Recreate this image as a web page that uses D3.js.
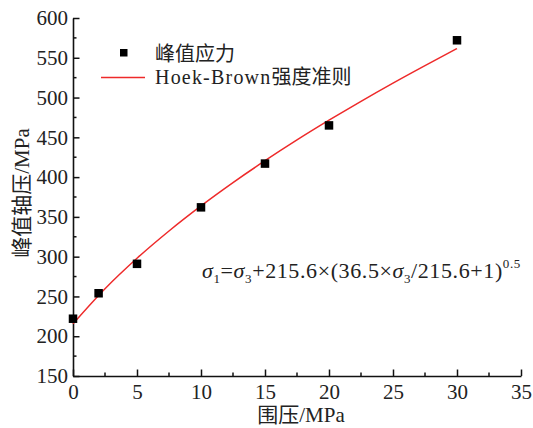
<!doctype html>
<html lang="zh">
<head>
<meta charset="utf-8"/>
<title>峰值应力 Hoek-Brown</title>
<script src="https://d3js.org/d3.v7.min.js"></script>
<style>
  body { margin: 0; background: #fff; }
  svg text { font-family: "Liberation Serif", "Noto Sans CJK SC", serif; fill: #222; }
</style>
</head>
<body>
<svg id="chart"></svg>
<script>
    // measured peak stress points
    const confining = [0, 2, 5, 10, 15, 20, 30];
    const peakStress = [222, 254, 291, 362, 417, 465, 572];

    // Hoek-Brown fit curve
    const fitSigma3 = [0, 2.5, 5, 7.5, 10, 12.5, 15, 17.5, 20, 22.5, 25, 27.5, 30];
    const fitSigma1 = [215.6, 259.7, 298.0, 332.3, 363.8, 393.1, 420.6, 446.7, 471.5, 495.3, 518.2, 540.2, 561.6];

    const xTicks = [0, 5, 10, 15, 20, 25, 30, 35];
    const yTicks = [150, 200, 250, 300, 350, 400, 450, 500, 550, 600];
    const xMinor = [2.5, 7.5, 12.5, 17.5, 22.5, 27.5, 32.5];
    const yMinor = [175, 225, 275, 325, 375, 425, 475, 525, 575];

    let width = 533,
        height = 428;
    const margin = {top: 18, right: 12, bottom: 52, left: 73};

    const svg = d3.select("#chart")
        .attr("width", width)
        .attr("height", height);

    const x = d3.scaleLinear().domain([0, 35]).range([margin.left, width - margin.right]);
    const y = d3.scaleLinear().domain([150, 600]).range([height - margin.bottom, margin.top]);

    // x axis, ticks pointing inward
    const gx = svg.append("g")
        .attr("transform", `translate(0,${height - margin.bottom})`)
        .call(d3.axisBottom(x).tickValues(xTicks).tickSize(-6.5).tickPadding(8).tickSizeOuter(0));
    gx.selectAll(".tick-minor")
        .data(xMinor)
        .enter()
        .append("line")
        .attr("x1", d => x(d)).attr("x2", d => x(d))
        .attr("y1", 0).attr("y2", -3.5)
        .attr("stroke", "#111").attr("stroke-width", 1.5);

    // y axis
    const gy = svg.append("g")
        .attr("transform", `translate(${margin.left},0)`)
        .call(d3.axisLeft(y).tickValues(yTicks).tickSize(-6.5).tickPadding(5).tickSizeOuter(0));
    gy.selectAll(".tick-minor")
        .data(yMinor)
        .enter()
        .append("line")
        .attr("y1", d => y(d)).attr("y2", d => y(d))
        .attr("x1", 0).attr("x2", 3.5)
        .attr("stroke", "#111").attr("stroke-width", 1.5);

    svg.selectAll(".domain").attr("stroke", "#111").attr("stroke-width", 1.6);
    svg.selectAll(".tick line").attr("stroke", "#111").attr("stroke-width", 1.5);
    svg.selectAll("g").attr("font-family", "Liberation Serif");
    svg.selectAll(".tick text")
        .attr("font-size", 21)
        .attr("fill", "#222")
        .style("font-family", '"Liberation Serif", "Times New Roman", serif');

    // axis titles
    svg.append("text")
        .attr("x", 301).attr("y", 422)
        .attr("text-anchor", "middle")
        .attr("font-size", 21)
        .text("围压/MPa");

    svg.append("text")
        .attr("transform", "translate(29,193) rotate(-90)")
        .attr("text-anchor", "middle")
        .attr("font-size", 21)
        .text("峰值轴压/MPa");

    // fit curve
    const line = d3.line()
        .x((d, i) => x(fitSigma3[i]))
        .y(d => y(d))
        .curve(d3.curveMonotoneX);

    svg.append("path")
        .datum(fitSigma1)
        .attr("d", line)
        .attr("fill", "none")
        .attr("stroke", "#ee2a2a")
        .attr("stroke-width", 1.5);

    // data points
    const s = 8.5;
    svg.selectAll("rect.pt")
        .data(peakStress)
        .enter()
        .append("rect")
        .attr("class", "pt")
        .attr("x", (d, i) => x(confining[i]) - s / 2)
        .attr("y", d => y(d) - s / 2)
        .attr("width", s)
        .attr("height", s)
        .attr("fill", "#000");

    // legend
    const lg = svg.append("g");
    lg.append("rect")
        .attr("x", 120).attr("y", 49)
        .attr("width", 7.5).attr("height", 7.5)
        .attr("fill", "#000");
    lg.append("text")
        .attr("x", 155).attr("y", 61)
        .attr("font-size", 20)
        .text("峰值应力");
    lg.append("line")
        .attr("x1", 101).attr("x2", 145)
        .attr("y1", 77.5).attr("y2", 77.5)
        .attr("stroke", "#ee2a2a").attr("stroke-width", 1.5);
    const lt = lg.append("text")
        .attr("x", 155).attr("y", 84)
        .attr("font-size", 20);
    lt.append("tspan").attr("letter-spacing", 1.2).text("Hoek-Brown");
    lt.append("tspan").text("强度准则");

    // formula
    const f = svg.append("text")
        .attr("x", 202).attr("y", 278)
        .attr("font-size", 22)
        .attr("letter-spacing", 0.6)
        .style("font-family", '"Liberation Serif", serif');
    f.append("tspan").attr("font-style", "italic").text("σ");
    f.append("tspan").attr("font-size", 13).attr("dy", 5).text("1");
    f.append("tspan").attr("dy", -5).text("=");
    f.append("tspan").attr("font-style", "italic").text("σ");
    f.append("tspan").attr("font-size", 13).attr("dy", 5).text("3");
    f.append("tspan").attr("dy", -5).text("+215.6×(36.5×");
    f.append("tspan").attr("font-style", "italic").text("σ");
    f.append("tspan").attr("font-size", 13).attr("dy", 5).text("3");
    f.append("tspan").attr("dy", -5).text("/215.6+1)");
    f.append("tspan").attr("font-size", 13).attr("dy", -10).text("0.5");
</script>
</body>
</html>
